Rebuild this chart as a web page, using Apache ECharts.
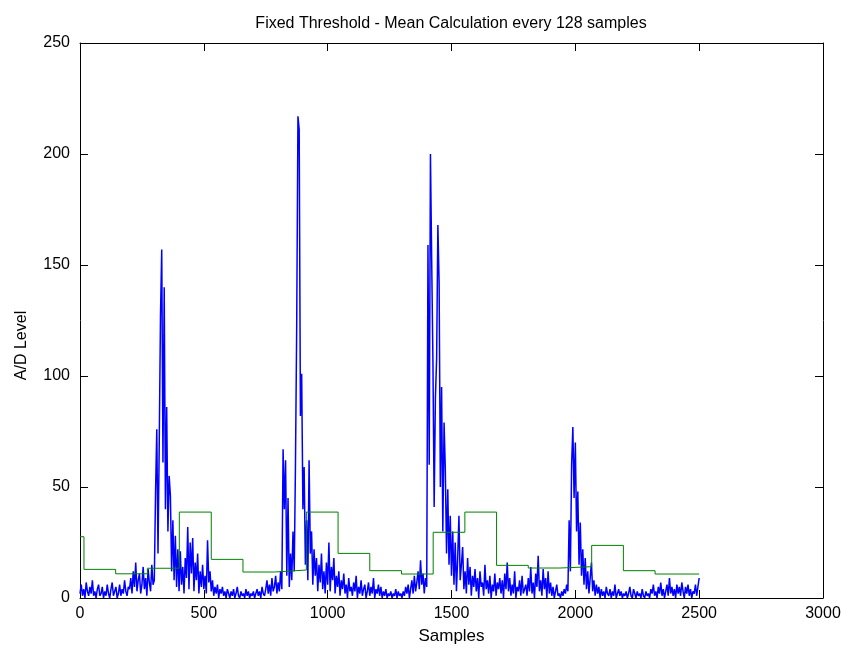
<!DOCTYPE html>
<html>
<head>
<meta charset="utf-8">
<script src="https://cdn.jsdelivr.net/npm/echarts@6/dist/echarts.min.js"></script>
<style>
  html, body { margin: 0; padding: 0; background: #fff; }
  #chart { width: 848px; height: 651px; }
</style>
</head>
<body>
<div id="chart"></div>
<script>
// A/D samples, one reading every 5 samples
var sampleStep = 5;
var adLevel = [
  2,6,1,4,0,7,3,1,5,2,8,1,3,0,4,6,1,2,5,0,
  3,1,6,2,0,4,7,1,3,5,0,2,6,1,4,2,8,3,1,5,
  4,9,2,12,5,16,3,8,11,2,6,14,4,9,1,13,7,3,15,6,
  8,47,76,20,70,127,157,61,140,40,86,30,55,46,12,35,8,28,5,22,
  3,21,6,14,2,18,9,32,4,25,11,27,3,16,8,20,2,12,5,15,
  4,10,2,26,7,12,3,8,1,5,2,6,0,4,2,5,1,3,0,4,
  2,0,3,1,4,0,2,5,1,0,3,1,2,0,4,1,3,0,2,1,
  3,0,2,4,1,3,0,5,2,1,4,8,2,6,1,9,3,5,10,2,
  7,3,12,4,67,40,62,10,45,5,20,8,30,12,60,123,217,211,82,101,
  40,59,15,35,8,62,20,30,6,22,10,18,3,15,7,20,4,12,2,16,
  6,25,3,14,8,18,2,10,5,12,1,8,4,11,2,6,0,9,3,5,
  1,7,3,10,0,5,2,8,1,4,6,0,3,7,1,5,2,9,0,4,
  2,6,1,5,0,3,1,4,0,2,1,3,0,2,1,4,0,3,1,2,
  0,3,1,5,2,6,0,4,8,2,10,3,7,12,4,17,6,11,2,9,
  5,159,60,200,152,107,41,90,108,168,142,50,95,30,79,58,20,49,15,37,
  10,30,6,25,3,18,37,8,15,23,4,12,2,18,6,14,1,10,5,13,
  3,9,0,12,5,7,1,15,4,8,2,10,0,6,3,11,1,7,4,9,
  2,8,0,11,4,16,3,9,1,6,2,12,0,5,3,8,1,10,2,4,
  6,1,9,3,14,2,7,0,11,5,19,3,8,1,13,4,9,0,12,2,
  7,1,5,0,3,6,1,2,0,3,1,4,2,6,3,35,12,60,77,45,
  70,30,48,15,34,10,22,6,18,4,12,2,9,16,3,8,1,6,2,5,
  0,4,1,3,0,5,2,1,4,0,3,1,6,0,2,4,1,3,0,2,
  1,3,0,2,5,1,0,4,2,0,3,1,2,0,4,1,0,3,1,2,
  0,4,2,6,1,3,0,5,2,7,1,4,0,3,6,1,9,2,5,1,
  4,0,6,2,5,1,7,3,0,5,2,6,1,4,0,3,2,6,1,5,
  9
];

// mean threshold, recalculated every 128 samples
var meanEdges  = [0,16,144,272,401,530,658,786,914,1042,1170,1298,1426,1554,1682,1810,1938,2066,2194,2322,2500];
var meanLevels = [27.6,12.9,10.9,13.4,38.7,17.4,11.7,12.6,38.7,20.1,12.3,10.8,29.6,38.7,14.7,13.5,14.1,23.7,12.3,10.8,10.8];

var xTicks = [0,500,1000,1500,2000,2500,3000];
var yTicks = [0,50,100,150,200,250];

var adData = adLevel.map(function (v, i) { return [i * sampleStep, v]; });
var meanData = meanEdges.map(function (x, i) { return [x, meanLevels[i]]; });

var chart = echarts.init(document.getElementById('chart'));
var font = 'Liberation Sans, Arial, sans-serif';

// MATLAB-like box: axis lines on all four sides, ticks pointing inwards
var boxAxis = {
    axisLine: { show: true, onZero: false, lineStyle: { color: '#000', width: 1 } },
    axisTick: { show: true, inside: true, length: 8, lineStyle: { color: '#000' } },
    splitLine: { show: false }
};
var plain = function (v) { return String(v); };

var option = {
    animation: false,
    backgroundColor: '#fff',
    title: {
        text: 'Fixed Threshold - Mean Calculation every 128 samples',
        left: 446, top: 11, textAlign: 'center',
        textStyle: { fontFamily: font, fontSize: 16, fontWeight: 'normal', color: '#000' }
    },
    grid: { left: 80, right: 25, top: 43, bottom: 53 },
    xAxis: [
        Object.assign({}, boxAxis, {
            type: 'value', min: xTicks[0], max: xTicks[xTicks.length - 1], interval: 500,
            name: 'Samples', nameLocation: 'middle', nameGap: 30,
            nameTextStyle: { fontFamily: font, fontSize: 17, color: '#000' },
            axisLabel: { fontFamily: font, fontSize: 16, color: '#000', margin: 8, formatter: plain }
        }),
        Object.assign({}, boxAxis, {
            type: 'value', position: 'top', min: 0, max: 3000, interval: 500,
            axisLabel: { show: false }
        })
    ],
    yAxis: [
        Object.assign({}, boxAxis, {
            type: 'value', min: yTicks[0], max: yTicks[yTicks.length - 1], interval: 50,
            name: 'A/D Level', nameLocation: 'middle', nameGap: 50,
            nameTextStyle: { fontFamily: font, fontSize: 16, color: '#000', padding: [0, 50, 0, 0] },
            axisLabel: { fontFamily: font, fontSize: 16, color: '#000', margin: 10, formatter: plain }
        }),
        Object.assign({}, boxAxis, {
            type: 'value', position: 'right', min: 0, max: 250, interval: 50,
            axisLabel: { show: false }
        })
    ],
    series: [
        {
            name: 'A/D',
            type: 'line',
            data: adData,
            showSymbol: false,
            lineStyle: { color: '#0000ff', width: 1.5 },
            z: 2
        },
        {
            name: 'Mean',
            type: 'line',
            step: 'end',
            data: meanData,
            showSymbol: false,
            lineStyle: { color: '#008000', width: 1 },
            z: 3
        }
    ]
};

chart.setOption(option);
</script>
</body>
</html>
